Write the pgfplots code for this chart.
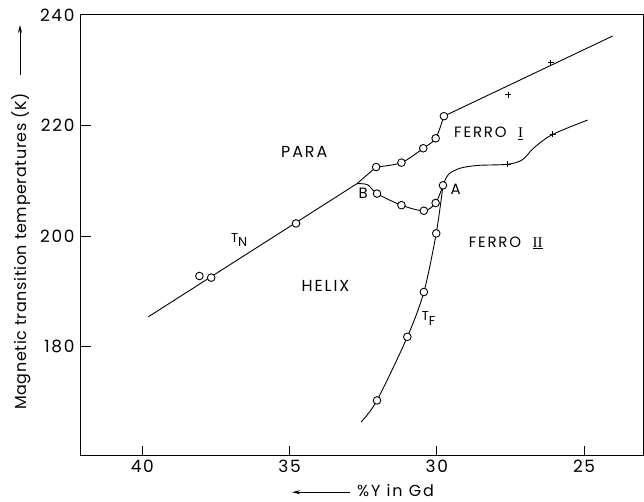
\documentclass[border=0pt]{standalone}
\usepackage{pgfplots}
\pgfplotsset{compat=1.18}
\usepackage{fontspec}
\setmainfont{Poppins}[LetterSpace=4]
\newfontfamily\ticksfont{Poppins}[LetterSpace=10]
\newfontfamily\labfont{Poppins}[LetterSpace=12]
\newfontfamily\romfont{Liberation Serif}
\usetikzlibrary{calc,arrows.meta}
\begin{document}
\begin{tikzpicture}
\begin{axis}[name=ax, scale only axis, width=562bp, height=440.7bp,
  x dir=reverse, xmin=23.0, xmax=42.08, ymin=160.3, ymax=240,
  xtick={25,30,35,40}, ytick={180,200,220,240},
  tick align=inside, xtick pos=bottom, ytick pos=left, major tick length=10bp,
  axis line style={line width=1bp},
  every tick/.style={black, line width=1bp},
  ticklabel style={font=\ticksfont\fontsize{17}{17}\selectfont},
  /pgf/number format/assume math mode=true,
  yticklabel style={xshift=-3bp},
  xticklabel style={yshift=-1bp},
  clip=false]
% T_N line
\addplot[black, line width=0.9bp] coordinates {(39.80,185.4)(32.71,209.5)(32.06,212.5)};
\addplot[black, line width=0.9bp, smooth] coordinates {(32.06,212.5)(31.2,213.3)(30.46,215.9)(30.04,217.7)(29.76,221.7)};
\addplot[black, line width=0.9bp] coordinates {(29.76,221.7)(24.03,236.2)};
% B - A curve
\addplot[black, line width=0.9bp, smooth] coordinates {(32.71,209.5)(32.35,209.3)(32.03,207.7)(31.2,205.6)(30.44,204.6)(30.04,206.0)(29.79,209.2)};
% T_F curve
\addplot[black, line width=0.9bp, smooth] coordinates {(32.57,166.4)(32.03,170.3)(31.0,181.8)(30.44,189.9)(30.02,200.5)(29.79,209.2)};
% Ferro II boundary
\addplot[black, line width=0.9bp, smooth] coordinates {(29.79,209.2)(29.6,211.2)(29.2,212.3)(28.6,212.8)(27.6,213.0)(27.1,213.8)(26.7,216.0)(26.07,218.4)(24.88,221.0)};
% circles
\addplot[only marks, mark=*, mark size=3.8bp, mark options={fill=white, draw=black, line width=0.9bp}] coordinates {
(38.06,192.8)(37.66,192.5)(34.78,202.3)
(32.06,212.5)(31.2,213.3)(30.46,215.9)(30.04,217.7)(29.76,221.7)
(32.03,207.7)(31.2,205.6)(30.44,204.6)(30.04,206.0)(29.79,209.2)
(32.03,170.3)(31.0,181.8)(30.44,189.9)(30.02,200.5)};
% crosses
\addplot[only marks, mark=+, mark size=3bp, mark options={line width=0.9bp}] coordinates {
(26.13,231.4)(27.58,225.6)(27.6,213.0)(26.07,218.4)};
% labels
\node[font=\labfont\fontsize{16}{16}\selectfont] at (axis cs:34.5,215.2) {PARA};
\node[font=\labfont\fontsize{15}{15}\selectfont] at (axis cs:28.24,218.6) {FERRO\ \ {\romfont\underline{I}}};
\node[font=\labfont\fontsize{15}{15}\selectfont] at (axis cs:27.66,198.8) {FERRO\ \ {\romfont\underline{II}}};
\node[font=\labfont\fontsize{16}{16}\selectfont] at (axis cs:33.78,191.0) {HELIX};
\node[font=\labfont\fontsize{15}{15}\selectfont] at (axis cs:32.5,207.8) {B};
\node[font=\labfont\fontsize{15}{15}\selectfont] at (axis cs:29.36,208.5) {A};
\node[font=\fontsize{13}{13}\selectfont] at (axis cs:36.71,199.3) {T\raisebox{-4.5bp}{N}};
\node[font=\fontsize{13}{13}\selectfont] at (axis cs:30.28,185.1) {T\raisebox{-4.5bp}{F}};
\coordinate (SW) at (axis description cs:0,0);
\coordinate (NE) at (axis description cs:1,1);
\end{axis}
\node[rotate=90, font=\fontsize{16}{16}\selectfont] at ($(SW)+(-60bp,204.2bp)$) {Magnetic transition temperatures (K)};
\draw[line width=0.9bp, -{Stealth[length=8bp,width=4bp]}] ($(SW)+(-61bp,380.7bp)$) -- ($(SW)+(-61bp,430.7bp)$);
\node[anchor=base, inner sep=0.5bp, font=\labfont\fontsize{16}{16}\selectfont] at ($(SW)+(314.5bp,-40.3bp)$) {\%Y in Gd};
\draw[line width=0.9bp, -{Stealth[length=8bp,width=4bp]}] ($(SW)+(269bp,-36.5bp)$) -- ($(SW)+(211bp,-36.5bp)$);
\pgfresetboundingbox
\path[use as bounding box] ($(SW)+(-81bp,-46.3bp)$) rectangle ($(NE)+(1bp,15bp)$);
\end{tikzpicture}
\end{document}
